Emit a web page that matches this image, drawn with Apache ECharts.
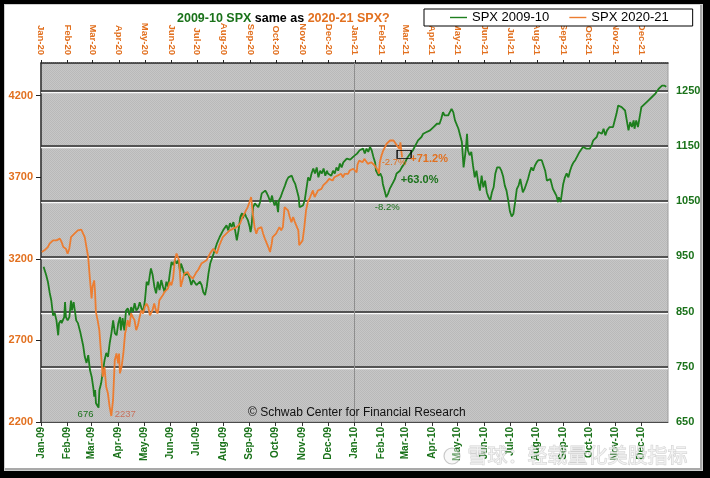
<!DOCTYPE html>
<html><head><meta charset="utf-8">
<script src="https://cdn.jsdelivr.net/npm/echarts@6/dist/echarts.min.js"></script>
<style>
html,body{margin:0;padding:0;background:#fff;}
#frame{position:absolute;left:0;top:0;width:710px;height:478px;box-sizing:border-box;border-style:solid;border-color:#000;border-width:4px 7px 7px 4px;box-shadow:inset 0 0 0 1px #cfcfcf, inset -3px -3px 0 #a9a9a9;}
#chart{position:absolute;left:0;top:0;width:710px;height:478px;}
</style></head><body>
<div id="frame"></div><div id="chart"></div>
<script>
// ---------- DATA ----------
const bottomLabels = ['Jan-09','Feb-09','Mar-09','Apr-09','May-09','Jun-09','Jul-09','Aug-09','Sep-09','Oct-09','Nov-09','Dec-09',
  'Jan-10','Feb-10','Mar-10','Apr-10','May-10','Jun-10','Jul-10','Aug-10','Sep-10','Oct-10','Nov-10','Dec-10'];
const topLabels = ['Jan-20','Feb-20','Mar-20','Apr-20','May-20','Jun-20','Jul-20','Aug-20','Sep-20','Oct-20','Nov-20','Dec-20',
  'Jan-21','Feb-21','Mar-21','Apr-21','May-21','Jun-21','Jul-21','Aug-21','Sep-21','Oct-21','Nov-21','Dec-21'];
const leftTicks = [2200, 2700, 3200, 3700, 4200];
const rightTicks = [650, 750, 850, 950, 1050, 1150, 1250];
const gridValues = [750, 850, 950, 1050, 1150, 1250];

const greenDates = [
'2009-01-04','2009-01-06','2009-01-07','2009-01-09','2009-01-11','2009-01-13','2009-01-15','2009-01-17','2009-01-19','2009-01-21',
'2009-01-22','2009-01-24','2009-01-25','2009-01-28','2009-01-29','2009-01-30','2009-02-01','2009-02-03','2009-02-05','2009-02-06',
'2009-02-08','2009-02-10','2009-02-11','2009-02-13','2009-02-16','2009-02-19','2009-02-21','2009-02-23','2009-02-25','2009-02-27',
'2009-03-01','2009-03-03','2009-03-04','2009-03-05','2009-03-06','2009-03-09','2009-03-10','2009-03-12','2009-03-14','2009-03-16',
'2009-03-18','2009-03-20','2009-03-22','2009-03-24','2009-03-26','2009-03-28','2009-03-30','2009-04-01','2009-04-03','2009-04-04',
'2009-04-06','2009-04-08','2009-04-10','2009-04-12','2009-04-14','2009-04-16','2009-04-18','2009-04-20','2009-04-22','2009-04-24',
'2009-04-26','2009-04-28','2009-04-30','2009-05-02','2009-05-04','2009-05-06','2009-05-08','2009-05-09','2009-05-11','2009-05-13',
'2009-05-15','2009-05-17','2009-05-19','2009-05-21','2009-05-23','2009-05-25','2009-05-27','2009-05-29','2009-05-31','2009-06-02',
'2009-06-04','2009-06-06','2009-06-08','2009-06-10','2009-06-12','2009-06-13','2009-06-15','2009-06-17','2009-06-19','2009-06-21',
'2009-06-23','2009-06-25','2009-06-27','2009-06-29','2009-07-01','2009-07-03','2009-07-05','2009-07-07','2009-07-09','2009-07-11',
'2009-07-13','2009-07-15','2009-07-17','2009-07-21','2009-07-25','2009-07-28','2009-08-01','2009-08-05','2009-08-07','2009-08-09',
'2009-08-11','2009-08-13','2009-08-15','2009-08-17','2009-08-19','2009-08-21','2009-08-23','2009-08-24','2009-08-26','2009-08-28',
'2009-08-30','2009-09-01','2009-09-02','2009-09-03','2009-09-05','2009-09-07','2009-09-09','2009-09-11','2009-09-13','2009-09-15',
'2009-09-17','2009-09-19','2009-09-21','2009-09-23','2009-09-25','2009-09-27','2009-09-28','2009-09-30','2009-10-02','2009-10-04',
'2009-10-05','2009-10-07','2009-10-09','2009-10-12','2009-10-14','2009-10-16','2009-10-18','2009-10-20','2009-10-22','2009-10-24',
'2009-10-26','2009-10-28','2009-10-29','2009-10-31','2009-11-02','2009-11-04','2009-11-06','2009-11-08','2009-11-10','2009-11-12',
'2009-11-14','2009-11-16','2009-11-18','2009-11-20','2009-11-22','2009-11-24','2009-11-26','2009-11-28','2009-11-30','2009-12-01',
'2009-12-03','2009-12-05','2009-12-07','2009-12-09','2009-12-11','2009-12-13','2009-12-15','2009-12-17','2009-12-19','2009-12-21',
'2009-12-23','2009-12-25','2009-12-27','2009-12-29','2009-12-31','2010-01-04','2010-01-07','2010-01-11','2010-01-13','2010-01-15',
'2010-01-17','2010-01-19','2010-01-21','2010-01-23','2010-01-25','2010-01-26','2010-01-29','2010-01-31','2010-02-02','2010-02-03',
'2010-02-05','2010-02-07','2010-02-09','2010-02-11','2010-02-13','2010-02-15','2010-02-17','2010-02-19','2010-02-21','2010-02-23',
'2010-02-25','2010-02-27','2010-03-01','2010-03-03','2010-03-05','2010-03-07','2010-03-09','2010-03-10','2010-03-12','2010-03-14',
'2010-03-16','2010-03-18','2010-03-20','2010-03-22','2010-03-24','2010-03-26','2010-03-28','2010-03-30','2010-04-01','2010-04-03',
'2010-04-05','2010-04-07','2010-04-08','2010-04-10','2010-04-12','2010-04-14','2010-04-16','2010-04-18','2010-04-20','2010-04-22',
'2010-04-24','2010-04-26','2010-04-28','2010-04-30','2010-05-02','2010-05-04','2010-05-06','2010-05-08','2010-05-10','2010-05-11',
'2010-05-12','2010-05-13','2010-05-15','2010-05-17','2010-05-19','2010-05-21','2010-05-23','2010-05-25','2010-05-27','2010-05-29',
'2010-05-31','2010-06-02','2010-06-04','2010-06-06','2010-06-08','2010-06-10','2010-06-12','2010-06-14','2010-06-16','2010-06-17',
'2010-06-19','2010-06-21','2010-06-23','2010-06-25','2010-06-27','2010-06-29','2010-07-01','2010-07-03','2010-07-05','2010-07-07',
'2010-07-09','2010-07-11','2010-07-13','2010-07-15','2010-07-16','2010-07-18','2010-07-20','2010-07-22','2010-07-24','2010-07-26',
'2010-07-28','2010-07-30','2010-08-01','2010-08-03','2010-08-05','2010-08-07','2010-08-09','2010-08-11','2010-08-13','2010-08-15',
'2010-08-17','2010-08-19','2010-08-20','2010-08-22','2010-08-24','2010-08-26','2010-08-27','2010-08-29','2010-08-30','2010-09-01',
'2010-09-03','2010-09-05','2010-09-07','2010-09-09','2010-09-11','2010-09-13','2010-09-15','2010-09-17','2010-09-18','2010-09-20',
'2010-09-22','2010-09-24','2010-09-26','2010-09-28','2010-09-30','2010-10-02','2010-10-04','2010-10-06','2010-10-08','2010-10-10',
'2010-10-12','2010-10-14','2010-10-16','2010-10-18','2010-10-20','2010-10-22','2010-10-23','2010-10-25','2010-10-27','2010-10-29',
'2010-10-31','2010-11-02','2010-11-04','2010-11-06','2010-11-08','2010-11-10','2010-11-12','2010-11-14','2010-11-16','2010-11-18',
'2010-11-20','2010-11-22','2010-11-23','2010-11-25','2010-11-27','2010-11-29','2010-12-01','2010-12-03','2010-12-05','2010-12-07',
'2010-12-09','2010-12-11','2010-12-13','2010-12-15','2010-12-17','2010-12-19','2010-12-21','2010-12-23','2010-12-25','2010-12-26',
'2010-12-28','2010-12-30'];
const greenValues = [
931,934,916,904,885,870,843,847,834,807,
829,834,829,840,867,840,834,840,870,852,
867,870,834,829,811,789,768,757,771,744,
732,711,696,708,684,676,708,720,741,762,
775,768,793,811,834,811,807,829,840,816,
838,816,852,856,843,858,849,865,852,856,
867,856,849,870,904,898,919,928,916,895,
883,904,889,907,895,885,904,895,919,940,
934,943,937,943,922,937,928,916,913,919,
910,898,907,910,898,895,904,898,885,880,
895,919,937,955,974,985,997,1006,997,1010,
1003,1012,997,979,997,1021,1028,1019,1028,1021,
1015,1003,994,1003,1039,1046,1048,1039,1048,1064,
1066,1069,1064,1057,1048,1060,1051,1042,1051,1030,
1051,1057,1066,1078,1087,1093,1090,1096,1087,1081,
1069,1057,1039,1036,1042,1051,1072,1093,1087,1100,
1109,1100,1111,1093,1105,1100,1109,1096,1105,1100,
1102,1096,1105,1100,1111,1105,1118,1111,1120,1118,
1127,1124,1125,1124,1131,1136,1142,1145,1136,1145,
1139,1148,1142,1130,1120,1105,1096,1100,1093,1081,
1069,1057,1063,1072,1078,1084,1090,1100,1102,1105,
1111,1114,1120,1127,1130,1136,1139,1142,1145,1154,
1160,1163,1166,1172,1169,1175,1172,1178,1181,1184,
1187,1190,1193,1190,1199,1211,1205,1202,1205,1211,
1217,1211,1196,1193,1181,1178,1157,1111,1136,1151,
1172,1142,1133,1139,1114,1093,1105,1084,1069,1096,
1075,1087,1066,1057,1051,1066,1075,1100,1111,1114,
1111,1105,1095,1078,1069,1051,1031,1022,1027,1048,
1072,1078,1090,1093,1066,1072,1081,1090,1102,1111,
1105,1114,1120,1124,1127,1124,1127,1105,1087,1084,
1090,1078,1072,1066,1060,1048,1057,1048,1051,1081,
1093,1100,1093,1105,1114,1120,1124,1130,1133,1139,
1142,1148,1145,1145,1142,1145,1151,1160,1163,1166,
1175,1178,1172,1181,1169,1178,1181,1184,1187,1184,
1187,1208,1223,1226,1220,1217,1214,1196,1178,1193,
1184,1196,1181,1196,1184,1181,1220,1223,1226,1229,
1232,1235,1238,1241,1244,1247,1253,1256,1259,1256,
1259,1257];

const orangeDates = [
'2020-01-02','2020-01-05','2020-01-09','2020-01-11','2020-01-13','2020-01-15','2020-01-17','2020-01-19','2020-01-21','2020-01-23',
'2020-01-25','2020-01-27','2020-01-29','2020-01-30','2020-02-01','2020-02-03','2020-02-05','2020-02-07','2020-02-09','2020-02-11',
'2020-02-13','2020-02-15','2020-02-17','2020-02-19','2020-02-21','2020-02-23','2020-02-25','2020-02-27','2020-02-29','2020-03-01',
'2020-03-03','2020-03-04','2020-03-05','2020-03-07','2020-03-09','2020-03-11','2020-03-13','2020-03-15','2020-03-17','2020-03-19',
'2020-03-21','2020-03-23','2020-03-25','2020-03-27','2020-03-29','2020-03-31','2020-04-01','2020-04-02','2020-04-04','2020-04-06',
'2020-04-08','2020-04-09','2020-04-11','2020-04-13','2020-04-15','2020-04-17','2020-04-19','2020-04-21','2020-04-23','2020-04-25',
'2020-04-27','2020-04-29','2020-05-01','2020-05-03','2020-05-05','2020-05-07','2020-05-08','2020-05-10','2020-05-12','2020-05-14',
'2020-05-16','2020-05-18','2020-05-20','2020-05-22','2020-05-24','2020-05-26','2020-05-28','2020-05-30','2020-06-01','2020-06-03',
'2020-06-05','2020-06-07','2020-06-09','2020-06-10','2020-06-12','2020-06-14','2020-06-16','2020-06-18','2020-06-20','2020-06-22',
'2020-06-24','2020-06-26','2020-06-28','2020-06-30','2020-07-02','2020-07-04','2020-07-06','2020-07-08','2020-07-12','2020-07-16',
'2020-07-20','2020-07-24','2020-07-27','2020-07-31','2020-08-04','2020-08-08','2020-08-12','2020-08-16','2020-08-20','2020-08-23',
'2020-08-25','2020-08-27','2020-08-29','2020-08-31','2020-09-02','2020-09-04','2020-09-06','2020-09-08','2020-09-10','2020-09-12',
'2020-09-14','2020-09-16','2020-09-18','2020-09-20','2020-09-22','2020-09-24','2020-09-26','2020-09-27','2020-09-29','2020-10-01',
'2020-10-03','2020-10-05','2020-10-07','2020-10-09','2020-10-11','2020-10-13','2020-10-15','2020-10-17','2020-10-19','2020-10-21',
'2020-10-23','2020-10-25','2020-10-27','2020-10-28','2020-10-30','2020-11-01','2020-11-03','2020-11-05','2020-11-07','2020-11-09',
'2020-11-11','2020-11-13','2020-11-15','2020-11-17','2020-11-19','2020-11-21','2020-11-23','2020-11-25','2020-11-27','2020-11-29',
'2020-11-30','2020-12-02','2020-12-04','2020-12-06','2020-12-08','2020-12-10','2020-12-12','2020-12-14','2020-12-16','2020-12-18',
'2020-12-20','2020-12-22','2020-12-24','2020-12-26','2020-12-28','2020-12-30','2021-01-01','2021-01-03','2021-01-04','2021-01-06',
'2021-01-08','2021-01-10','2021-01-12','2021-01-14','2021-01-16','2021-01-18','2021-01-20','2021-01-22','2021-01-24','2021-01-26',
'2021-01-28','2021-01-29','2021-01-30','2021-02-01','2021-02-03','2021-02-05','2021-02-07','2021-02-09','2021-02-11','2021-02-13',
'2021-02-15','2021-02-17','2021-02-19','2021-02-21','2021-02-22','2021-02-23','2021-02-24','2021-02-25'];
const orangeValues = [
3242,3252,3272,3293,3283,3313,3324,3313,3324,3324,
3303,3272,3283,3262,3232,3262,3333,3344,3354,3364,
3374,3364,3379,3374,3333,3272,3211,3079,2957,3028,
3068,2997,2875,2824,2763,2620,2477,2538,2416,2376,
2294,2237,2335,2579,2620,2559,2620,2498,2538,2620,
2742,2763,2824,2783,2865,2844,2824,2763,2793,2844,
2885,2865,2905,2926,2905,2854,2844,2885,2926,2885,
2865,2946,2957,2977,2997,2987,3018,3058,3038,3079,
3191,3232,3221,3191,3028,3068,3109,3099,3119,3099,
3099,3079,3068,3117,3130,3150,3171,3179,3191,3232,
3262,3232,3283,3333,3354,3374,3385,3394,3415,3456,
3476,3497,3517,3547,3578,3476,3394,3354,3385,3374,
3394,3354,3324,3313,3272,3242,3293,3333,3324,3354,
3374,3394,3374,3394,3517,3527,3497,3456,3425,3456,
3425,3415,3374,3283,3272,3313,3394,3497,3547,3568,
3558,3619,3578,3588,3619,3609,3629,3650,3639,3670,
3680,3690,3700,3680,3700,3690,3711,3700,3721,3700,
3721,3731,3721,3741,3731,3752,3753,3729,3778,3802,
3813,3792,3813,3802,3782,3772,3792,3782,3772,3761,
3741,3721,3792,3833,3864,3884,3905,3914,3925,3935,
3925,3914,3894,3905,3874,3914,3864,3821];

// ---------- STYLE ----------
const GREEN_LINE = '#1e7f1e', GREEN_TXT = '#1a721a';
const ORANGE_LINE = '#ec7d31', ORANGE_TXT = '#e2701f';
const FONT = '"Liberation Sans", Arial, sans-serif';

function ts(s) { const p = s.split('-').map(Number); return new Date(p[0], p[1] - 1, p[2]).getTime(); }
const bottomTickVals = bottomLabels.map((_, i) => new Date(2009, i, 1).getTime());
const topTickVals = topLabels.map((_, i) => new Date(2020, i, 1).getTime());
function monthLabel(labels, y0) {
  return function (v) { const d = new Date(v); const i = (d.getFullYear() - y0) * 12 + d.getMonth(); return labels[i] || ''; };
}
const plain = v => String(Math.round(v));
function makePattern() {
  const c = document.createElement('canvas'); c.width = 2; c.height = 2;
  const g = c.getContext('2d');
  g.fillStyle = '#c7c7c7'; g.fillRect(0, 0, 2, 2);
  g.fillStyle = '#b9b9b9'; g.fillRect(0, 0, 1, 1); g.fillRect(1, 1, 1, 1);
  return { image: c, repeat: 'repeat' };
}

const greenData = greenDates.map((d, i) => [ts(d), greenValues[i]]);
const orangeData = orangeDates.map((d, i) => [ts(d), orangeValues[i]]);
const gridLineStyle = { color: '#2c2c2c', width: 1.5, type: 'solid', shadowColor: 'rgba(255,255,255,0.9)', shadowBlur: 0, shadowOffsetY: 1.5 };
const hiddenSym = { color: 'rgba(0,0,0,0)' };
const oLast = orangeDates[orangeDates.length - 1], oLastV = orangeValues[orangeValues.length - 1];

const chart = echarts.init(document.getElementById('chart'), null, { renderer: 'canvas' });
const option = {
  animation: false,
  backgroundColor: 'transparent',
  textStyle: { fontFamily: FONT },
  title: {
    left: 177, top: 12, padding: 0,
    text: '{g|2009-10 SPX} {k|same as} {o|2020-21 SPX?}',
    textStyle: {
      fontSize: 12.5, fontWeight: 'bold', fontFamily: FONT, color: '#000',
      rich: {
        g: { color: GREEN_TXT, fontSize: 12.5, fontWeight: 'bold', fontFamily: FONT },
        k: { color: '#000', fontSize: 12.5, fontWeight: 'bold', fontFamily: FONT },
        o: { color: ORANGE_TXT, fontSize: 12.5, fontWeight: 'bold', fontFamily: FONT }
      }
    }
  },
  legend: {
    left: 424, top: 9,
    data: ['SPX 2009-10', 'SPX 2020-21'],
    icon: 'rect', itemWidth: 17, itemHeight: 1.4, itemGap: 20,
    backgroundColor: '#fff', borderColor: '#000', borderWidth: 1, borderRadius: 0,
    padding: [2, 24, 2, 26],
    textStyle: { fontSize: 13, color: '#000', fontFamily: FONT },
    selectedMode: false
  },
  grid: {
    left: 41, right: 42, top: 63, bottom: 56,
    show: true, backgroundColor: makePattern(), borderColor: '#9c9c9c', borderWidth: 1,
    outerBoundsMode: 'none', containLabel: false
  },
  xAxis: [
    {
      type: 'value', position: 'bottom', scale: true,
      min: ts('2009-01-01'), max: ts('2011-01-01'),
      axisLine: { show: true, onZero: false, lineStyle: { color: '#4a4a4a', width: 1 } },
      axisTick: { show: true, customValues: bottomTickVals, length: 4, lineStyle: { color: '#333' } },
      axisLabel: {
        customValues: bottomTickVals, rotate: 90, margin: 5, color: GREEN_TXT,
        fontSize: 10, fontWeight: 'bold', fontFamily: FONT, formatter: monthLabel(bottomLabels, 2009)
      },
      splitLine: { show: false }, minorTick: { show: false }
    },
    {
      type: 'value', position: 'top', scale: true,
      min: ts('2020-01-01'), max: ts('2022-01-01'),
      axisLine: { show: true, onZero: false, lineStyle: { color: '#2a2a2a', width: 1.5, type: [1, 1] } },
      axisTick: { show: true, customValues: topTickVals, length: 3, lineStyle: { color: '#222' } },
      axisLabel: {
        customValues: topTickVals, rotate: 90, margin: 8, color: ORANGE_TXT,
        fontSize: 9.5, fontWeight: 'bold', fontFamily: FONT, formatter: monthLabel(topLabels, 2020)
      },
      splitLine: { show: false }, minorTick: { show: false }
    }
  ],
  yAxis: [
    {
      type: 'value', position: 'left', min: 2200, max: 4400,
      axisLine: { show: true, lineStyle: { color: '#333', width: 1.5 } },
      axisTick: { show: true, customValues: leftTicks, length: 5, lineStyle: { color: '#222' } },
      axisLabel: { customValues: leftTicks, formatter: plain, color: ORANGE_TXT, fontSize: 11, fontWeight: 'bold', fontFamily: FONT, margin: 8 },
      splitLine: { show: false }
    },
    {
      type: 'value', position: 'right', min: 650, max: 1300,
      axisLine: { show: false },
      axisTick: { show: false, customValues: rightTicks },
      axisLabel: { customValues: rightTicks, formatter: plain, color: GREEN_TXT, fontSize: 11, fontWeight: 'bold', fontFamily: FONT, margin: 8 },
      splitLine: { show: false }
    }
  ],
  series: [
    {
      name: 'SPX 2009-10', type: 'line', xAxisIndex: 0, yAxisIndex: 1,
      data: greenData, showSymbol: false, symbol: 'none',
      lineStyle: { color: GREEN_LINE, width: 1.8 }, itemStyle: { color: GREEN_LINE },
      z: 3,
      markLine: {
        z: 1, silent: true, symbol: ['none', 'none'], label: { show: false },
        data: gridValues.map(v => ({ yAxis: v, lineStyle: gridLineStyle }))
          .concat([{ xAxis: ts('2010-01-01'), lineStyle: { color: '#8e8e8e', width: 1, type: 'solid' } }])
      },
      markPoint: {
        silent: true, symbol: 'circle', symbolSize: 1, itemStyle: hiddenSym,
        data: [
          { coord: [ts('2009-03-09'), 676], label: { show: true, position: 'inside', formatter: '676', color: GREEN_TXT, fontSize: 9.5, fontFamily: FONT, offset: [-13, 7] } },
          { coord: [ts('2010-02-07'), 1057], label: { show: true, position: 'inside', formatter: '-8.2%', color: GREEN_TXT, fontSize: 9.5, fontFamily: FONT, offset: [1, 10] } },
          { coord: [ts('2010-03-05'), 1130], label: { show: true, position: 'inside', formatter: '+63.0%', color: GREEN_TXT, fontSize: 11, fontWeight: 'bold', fontFamily: FONT, offset: [11, 23] } }
        ]
      }
    },
    {
      name: 'SPX 2020-21', type: 'line', xAxisIndex: 1, yAxisIndex: 0,
      data: orangeData, showSymbol: false, symbol: 'none',
      lineStyle: { color: ORANGE_LINE, width: 1.8 }, itemStyle: { color: ORANGE_LINE },
      z: 4,
      markPoint: {
        silent: true, symbol: 'circle', symbolSize: 1, itemStyle: hiddenSym,
        data: [
          { coord: [ts('2020-03-23'), 2237], label: { show: true, position: 'inside', formatter: '2237', color: '#c8735e', fontSize: 9.5, fontFamily: FONT, offset: [14, -2] } },
          { coord: [ts(oLast), oLastV], label: { show: true, position: 'inside', formatter: '-2.7%', color: ORANGE_TXT, fontSize: 9.5, fontFamily: FONT, offset: [-8, 5] } },
          { coord: [ts(oLast), oLastV], label: { show: true, position: 'inside', formatter: '+71.2%', color: ORANGE_TXT, fontSize: 11, fontWeight: 'bold', fontFamily: FONT, offset: [27, 1] } },
          { coord: [ts(oLast), oLastV], symbol: 'rect', symbolSize: [14, 8], symbolOffset: [2, -3],
            itemStyle: { color: 'rgba(0,0,0,0)', borderColor: '#000', borderWidth: 1 }, label: { show: false } }
        ]
      }
    }
  ],
  graphic: [
    { type: 'text', left: 248, top: 407, z: 50,
      style: { text: '© Schwab Center for Financial Research', fontSize: 12, fontFamily: FONT, fill: '#111' } },
    { type: 'circle', shape: { cx: 452, cy: 456, r: 8 }, z: 100,
      style: { fill: 'rgba(240,240,240,0.45)', stroke: 'rgba(140,140,140,0.45)', lineWidth: 1.2 } },
    { type: 'text', left: 467, top: 445, z: 100,
      style: { text: '雪球：轻载量化美股指标', fontSize: 20, fontFamily: '"Noto Sans CJK SC", sans-serif',
        fill: 'rgba(245,245,245,0.7)', stroke: 'rgba(140,140,140,0.4)', lineWidth: 1 } }
  ]
};
chart.setOption(option);
</script>
</body></html>
